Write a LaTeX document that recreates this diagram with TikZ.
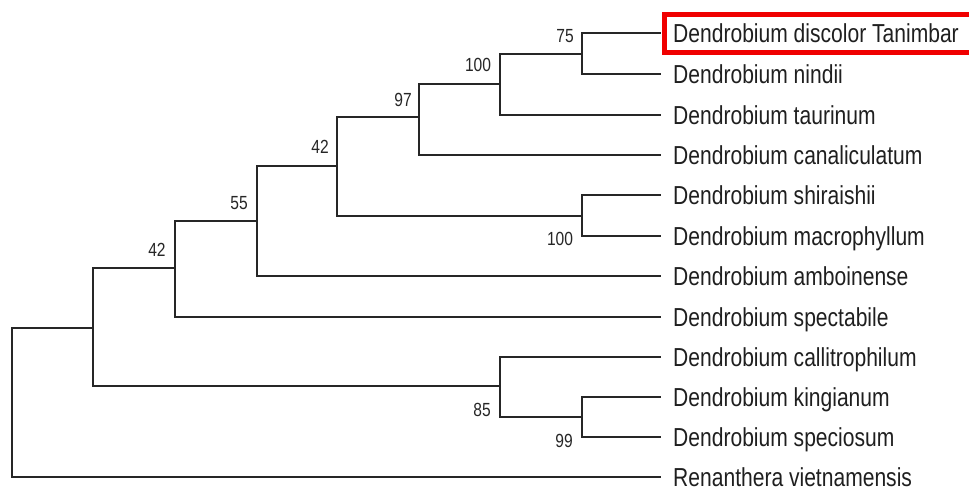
\documentclass[tikz,border=0pt]{standalone}
\usepackage{fontspec}
\setmainfont{Liberation Sans}
\newfontfamily\leaffont[FakeStretch=0.81]{Liberation Sans}
\newfontfamily\numfont[FakeStretch=0.82]{Liberation Sans}
\definecolor{treeline}{HTML}{262626}
\definecolor{boxred}{HTML}{F00000}
\begin{document}
\begin{tikzpicture}[x=1pt,y=-1pt,
  branch/.style={draw=treeline,line width=2pt},
  leaflabel/.style={anchor=west,inner sep=0pt,text height=18.5pt,text depth=0pt,
    font=\leaffont\fontsize{26}{29}\selectfont,text=black!88},
  support/.style={inner sep=0pt,text height=13.5pt,text depth=0pt,
    font=\numfont\fontsize{19}{21}\selectfont,text=black!85},
  hl/.style={draw=boxred,line width=5pt}]
\useasboundingbox (0,0) rectangle (969,491);
\clip (0,0) rectangle (969,491);
% leaf tips
\coordinate (t1) at (661,33);
\coordinate (t2) at (661,74);
\coordinate (t3) at (661,115);
\coordinate (t4) at (661,155);
\coordinate (t5) at (661,195);
\coordinate (t6) at (661,236);
\coordinate (t7) at (661,276);
\coordinate (t8) at (661,317);
\coordinate (t9) at (661,357);
\coordinate (t10) at (661,397);
\coordinate (t11) at (661,437);
\coordinate (t12) at (661,477);
% internal nodes
\coordinate (na) at (582,53.5);
\coordinate (nb) at (500,83.5);
\coordinate (nc) at (419,117);
\coordinate (nd) at (582,215.5);
\coordinate (ne) at (337,166);
\coordinate (nf) at (257,221);
\coordinate (ng) at (175,268);
\coordinate (nh) at (582,417);
\coordinate (ni) at (500,386);
\coordinate (nj) at (93,328);
\coordinate (nr) at (12,402.5);
% branches
\path[branch] (na) |- (t1) (na) |- (t2);
\path[branch] (nb) |- (na) (nb) |- (t3);
\path[branch] (nc) |- (nb) (nc) |- (t4);
\path[branch] (nd) |- (t5) (nd) |- (t6);
\path[branch] (ne) |- (nc) (ne) |- (nd);
\path[branch] (nf) |- (ne) (nf) |- (t7);
\path[branch] (ng) |- (nf) (ng) |- (t8);
\path[branch] (nh) |- (t10) (nh) |- (t11);
\path[branch] (ni) |- (t9) (ni) |- (nh);
\path[branch] (nj) |- (ng) (nj) |- (ni);
\path[branch] (nr) |- (nj) (nr) |- (t12);
% leaf labels
\node[leaflabel] (l1) at (673,33) {Dendrobium discolor Tanimbar};
\node[leaflabel] (l2) at (673,74) {Dendrobium nindii};
\node[leaflabel] (l3) at (673,115) {Dendrobium taurinum};
\node[leaflabel] (l4) at (673,155) {Dendrobium canaliculatum};
\node[leaflabel] (l5) at (673,195) {Dendrobium shiraishii};
\node[leaflabel] (l6) at (673,236) {Dendrobium macrophyllum};
\node[leaflabel] (l7) at (673,276) {Dendrobium amboinense};
\node[leaflabel] (l8) at (673,317) {Dendrobium spectabile};
\node[leaflabel] (l9) at (673,357) {Dendrobium callitrophilum};
\node[leaflabel] (l10) at (673,397) {Dendrobium kingianum};
\node[leaflabel] (l11) at (673,437) {Dendrobium speciosum};
\node[leaflabel] (l12) at (673,477) {Renanthera vietnamensis};
% support values
\node[support] (sa) at (565,36) {75};
\node[support] (sb) at (478,64.5) {100};
\node[support] (sc) at (403,100) {97};
\node[support] (sd) at (560,238.5) {100};
\node[support] (se) at (320,146.5) {42};
\node[support] (sf) at (239,202.5) {55};
\node[support] (sg) at (157,250) {42};
\node[support] (sh) at (564,440.5) {99};
\node[support] (si) at (482,410) {85};
% highlight box
\draw[hl] (980,14) -- (664,14) -- (664,52) -- (980,52);
\end{tikzpicture}
\end{document}
